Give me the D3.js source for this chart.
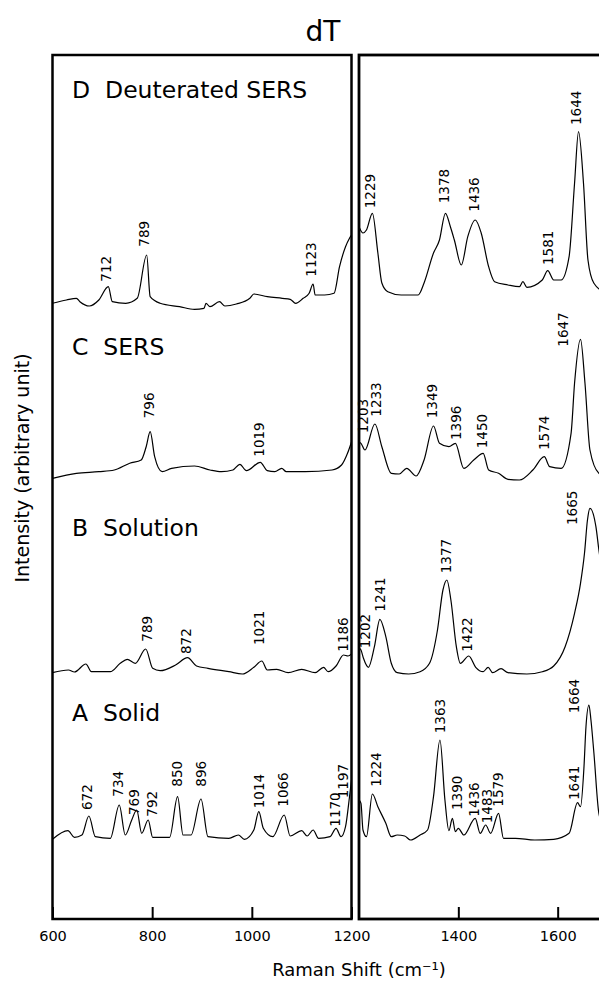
<!DOCTYPE html>
<html>
<head>
<meta charset="utf-8">
<script src="https://cdn.jsdelivr.net/npm/d3@7"></script>
<style>
    body { margin: 0; background: #fff; }
    text { font-family: "DejaVu Sans", sans-serif; fill: #000; }
</style>
</head>
<body>
<div id="chart"></div>
<script>
// spectra values, [Raman shift, intensity above the trace baseline]
const solidLeft = [[600,0.7],[631,9.3],[644,2.7],[659,5],[673,24],[686,3.3],[716,1.7],[734,35],[746,5],[759,20],[769,30],[779,6.7],[792,20],[801,2.7],[835,2.7],[851,43.3],[862,5],[878,5],[898,41],[912,3.3],[954,1.7],[973,5],[985,0.7],[1004,10],[1014,28.3],[1023,11.7],[1042,3.3],[1065,25],[1077,4],[1100,9.3],[1111,4],[1123,10],[1134,1.7],[1157,3.3],[1169,11.7],[1179,3.3],[1188,13.3],[1196,43.3],[1200,60]];
const solidRight = [[1200,40],[1204,36.7],[1208,10],[1215,3.3],[1227,46],[1238,33.3],[1254,16.7],[1265,3.3],[1277,5],[1292,4],[1304,0],[1323,5],[1338,10],[1350,43.3],[1363,100],[1373,40],[1381,9.3],[1388,21.7],[1394,8.3],[1400,11.7],[1411,5],[1434,21.7],[1444,6.7],[1455,15],[1465,6.7],[1481,26.7],[1491,1.7],[1515,1.7],[1554,0],[1592,0.7],[1623,6.7],[1640,37.3],[1646,33.3],[1653,73.3],[1657,113.3],[1663,135],[1667,120],[1673,86.7],[1683,26.7],[1700,5],[1720,2]];

const solutionLeft = [[600,2.3],[632,5],[644,3],[667,11],[678,3.3],[716,3.3],[736,11.7],[750,15.7],[766,11.7],[787,26],[801,6.7],[816,4.3],[847,10],[871,17.3],[889,9],[912,6.7],[954,3.3],[981,1],[1004,7.7],[1020,14],[1031,5],[1050,5.7],[1073,2.3],[1100,5.7],[1127,2.3],[1144,7.7],[1153,3.3],[1169,9],[1184,20],[1193,19],[1200,21]];
const solutionRight = [[1200,27],[1204,25],[1209,16.7],[1219,7.7],[1231,28.3],[1242,55.7],[1254,38.3],[1265,11.7],[1277,2.3],[1300,1],[1323,3.3],[1342,11.7],[1358,45],[1369,85],[1377,95],[1385,75],[1396,28.3],[1404,11.7],[1421,19],[1435,7.7],[1450,3.3],[1460,7.7],[1469,2.3],[1486,6.3],[1500,2.3],[1538,1],[1569,3.3],[1592,9],[1615,28.3],[1634,61.7],[1646,91.7],[1654,121.7],[1660,155],[1665,166.7],[1677,148.3],[1683,125],[1700,75],[1720,25]];

const sersLeft = [[600,1.7],[648,6.7],[693,8.3],[724,10],[755,16.7],[778,20],[788,33.3],[796,48.3],[805,23.3],[820,8.3],[839,11.7],[885,14],[916,10],[939,8.3],[962,10],[976,15.7],[989,9.3],[1017,17.7],[1031,9.3],[1046,8.3],[1060,11.7],[1069,8.3],[1107,8.3],[1161,10],[1180,15],[1192,26.7],[1200,38]];
const sersRight = [[1200,38],[1204,36.7],[1212,30],[1232,56],[1246,33.3],[1265,6.7],[1281,6],[1296,11.7],[1315,4],[1331,20],[1350,54],[1362,36.7],[1381,33.3],[1394,36.7],[1411,11.7],[1431,20],[1450,26.7],[1461,10],[1481,6.7],[1500,0.7],[1523,0],[1550,10],[1573,23.3],[1584,13.3],[1607,11.7],[1627,46.7],[1634,96.7],[1646,140.7],[1655,96.7],[1665,30],[1683,6.7],[1700,3],[1720,2]];

const deutLeft = [[600,6.7],[628,10],[648,11.7],[655,8.3],[674,4],[693,10],[712,23.3],[720,8.3],[747,6.7],[770,11.7],[789,55],[796,13.3],[816,6.7],[855,3.3],[885,0.7],[904,1.7],[908,6.7],[916,3.3],[935,8.3],[946,4],[969,6],[996,11.7],[1004,16],[1031,13.3],[1061,11.7],[1077,10.7],[1088,6.7],[1103,11.7],[1115,16.7],[1123,26],[1127,15],[1146,15],[1165,16.7],[1176,43.3],[1188,63.3],[1196,71.7],[1200,75]];
const deutRight = [[1200,83.3],[1208,77],[1215,80],[1227,96.7],[1238,57],[1246,27],[1258,18.3],[1285,15],[1319,15],[1331,27],[1350,57],[1362,70],[1374,96.7],[1384,83.3],[1392,70],[1406,45],[1419,73.3],[1434,90],[1446,77],[1461,43.3],[1473,28.3],[1500,25],[1523,23.3],[1530,28.3],[1538,22.7],[1569,30],[1580,39.3],[1592,30],[1607,30],[1623,53.3],[1634,126.7],[1642,178.3],[1652,126.7],[1661,50],[1673,26.7],[1690,20],[1720,20]];

// peak labels: [text, Raman shift, height of label foot above baseline]
const solidPeaks = [["672",670,30],["734",732,43.3],["769",764,25],["792",799,23.3],["850",851,53.3],["896",898,53.3],["1014",1014,31.7],["1066",1063,33.3],["1170",1167,13.3],["1197",1184,41.7],["1224",1235,53.3],["1363",1363,106.7],["1390",1398,30],["1436",1431,23.3],["1483",1458,16.7],["1579",1481,33.3],["1641",1634,40],["1664",1634,126.7]];
const solutionPeaks = [["789",789,33.3],["872",868,21],["1021",1015,30],["1186",1184,23.3],["1202",1212,26.7],["1241",1242,63.3],["1377",1375,101.7],["1422",1417,23.3],["1665",1630,150]];
const sersPeaks = [["796",793,61.7],["1019",1015,23.3],["1203",1209,46.7],["1233",1235,63.3],["1349",1348,61.7],["1396",1396,40],["1450",1447,31.7],["1574",1573,30],["1647",1611,133.3]];
const deutPeaks = [["712",707,28.3],["789",784,63.3],["1123",1119,33.3],["1229",1223,101.7],["1378",1371,106.7],["1436",1432,98.3],["1581",1580,45],["1644",1638,185]];

const traceNames = ["A  Solid", "B  Solution", "C  SERS", "D  Deuterated SERS"];
const traceOffsets = [79, 244, 439, 609];
const leftTicks = [600, 800, 1000, 1200];
const rightTicks = [1400, 1600];

const width = 599, height = 981;
const plotTop = 55, plotBottom = 919;

const svg = d3.select("#chart").append("svg")
    .attr("width", width)
    .attr("height", height);

const xLeft = d3.scaleLinear().domain([600, 1200]).range([52.5, 351.5]);
const xRight = d3.scaleLinear().domain([1200, 1800]).range([359, 657]);
const y = d3.scaleLinear().domain([0, plotBottom - plotTop]).range([plotBottom, plotTop]);

// clip each panel
const defs = svg.append("defs");
defs.append("clipPath").attr("id", "clipLeft").append("rect")
    .attr("x", xLeft.range()[0]).attr("y", plotTop)
    .attr("width", xLeft.range()[1] - xLeft.range()[0]).attr("height", plotBottom - plotTop);
defs.append("clipPath").attr("id", "clipRight").append("rect")
    .attr("x", xRight.range()[0]).attr("y", plotTop)
    .attr("width", xRight.range()[1] - xRight.range()[0]).attr("height", plotBottom - plotTop);

const traces = [
    { left: solidLeft, right: solidRight, peaks: solidPeaks },
    { left: solutionLeft, right: solutionRight, peaks: solutionPeaks },
    { left: sersLeft, right: sersRight, peaks: sersPeaks },
    { left: deutLeft, right: deutRight, peaks: deutPeaks },
];

function drawTrace(data, x, offset, clipId) {
    const line = d3.line()
        .x(d => x(d[0]))
        .y(d => y(d[1] + offset))
        .curve(d3.curveMonotoneX);

    svg.append("path")
        .datum(data)
        .attr("clip-path", "url(#" + clipId + ")")
        .attr("fill", "none")
        .attr("stroke", "#000")
        .attr("stroke-width", 1.2)
        .attr("stroke-linejoin", "round")
        .attr("d", line);
}

function drawPeakLabels(peaks, offset) {
    svg.append("g").selectAll("text")
        .data(peaks)
        .enter()
        .append("text")
        .attr("transform", d => {
            const x = d[1] <= 1200 ? xLeft(d[1]) : xRight(d[1]);
            return "translate(" + x + "," + y(d[2] + offset) + ") rotate(-90)";
        })
        .attr("dy", "0.36em")
        .attr("font-size", "13.5px")
        .text(d => d[0]);
}

traces.forEach((t, i) => {
    drawTrace(t.left, xLeft, traceOffsets[i], "clipLeft");
    drawTrace(t.right, xRight, traceOffsets[i], "clipRight");
    drawPeakLabels(t.peaks, traceOffsets[i]);
});

// trace names
const nameY = [721, 536, 355, 98];
svg.append("g").selectAll("text")
    .data(traceNames)
    .enter()
    .append("text")
    .attr("x", 72)
    .attr("y", (d, i) => nameY[i])
    .attr("font-size", "23.5px")
    .attr("xml:space", "preserve")
    .style("white-space", "pre")
    .text(d => d);

// panel frames
svg.append("rect")
    .attr("x", xLeft.range()[0]).attr("y", plotTop)
    .attr("width", xLeft.range()[1] - xLeft.range()[0]).attr("height", plotBottom - plotTop)
    .attr("fill", "none").attr("stroke", "#000").attr("stroke-width", 2.5);
svg.append("rect")
    .attr("x", xRight.range()[0]).attr("y", plotTop)
    .attr("width", xRight.range()[1] - xRight.range()[0]).attr("height", plotBottom - plotTop)
    .attr("fill", "none").attr("stroke", "#000").attr("stroke-width", 2.8);

// bottom axes, ticks pointing inward
function drawAxis(x, ticks) {
    const g = svg.append("g")
        .attr("transform", "translate(0," + plotBottom + ")")
        .call(d3.axisBottom(x).tickValues(ticks).tickSize(0).tickPadding(12).tickFormat(d3.format("d")));
    g.select(".domain").remove();
    g.selectAll("text")
        .attr("font-family", "DejaVu Sans, sans-serif")
        .attr("font-size", "14.5px");
    g.selectAll(".tick line")
        .attr("y2", -12)
        .attr("stroke", "#000")
        .attr("stroke-width", 2);
    return g;
}
drawAxis(xLeft, leftTicks);
drawAxis(xRight, rightTicks);

// titles
svg.append("text")
    .attr("x", 323)
    .attr("y", 41)
    .attr("text-anchor", "middle")
    .attr("font-size", "28px")
    .text("dT");

svg.append("text")
    .attr("transform", "translate(29,468) rotate(-90)")
    .attr("text-anchor", "middle")
    .attr("font-size", "19px")
    .text("Intensity (arbitrary unit)");

svg.append("text")
    .attr("x", 359)
    .attr("y", 976)
    .attr("text-anchor", "middle")
    .attr("font-size", "18px")
    .text("Raman Shift (cm\u207B\u00B9)");
</script>
</body>
</html>
